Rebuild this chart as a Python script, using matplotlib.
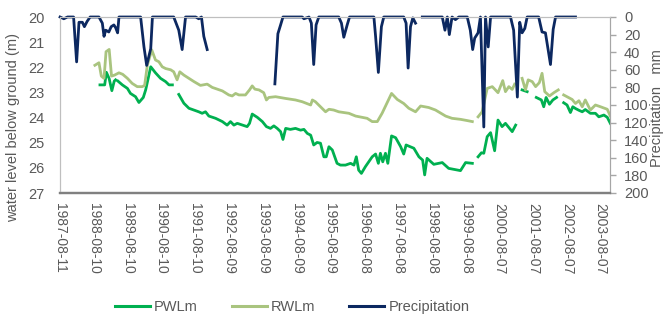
import numpy as np
import pandas as pd
import matplotlib
matplotlib.use("Agg")
import matplotlib.pyplot as plt
from matplotlib.lines import Line2D

plt.rcParams['font.family'] = ['Liberation Sans', 'DejaVu Sans']

# ---------------- data (decimal years) ----------------
pwl_years = [1988.79, 1988.93, 1988.98, 1989.06, 1989.14, 1989.21, 1989.25, 1989.28,
             1989.32, 1989.45, 1989.60, 1989.69, 1989.84, 1989.94, 1990.07, 1990.14,
             1990.29, 1990.43, 1990.58, 1990.73, 1990.83, 1990.93, 1991.02,
             1991.12, 1991.27, 1991.42, 1991.57, 1991.71, 1991.81, 1991.91, 1992.01,
             1992.21, 1992.41, 1992.55, 1992.65, 1992.75, 1992.85, 1993.00, 1993.14,
             1993.21, 1993.29, 1993.44, 1993.59, 1993.71, 1993.83, 1993.93, 1994.03,
             1994.13, 1994.20, 1994.28, 1994.42, 1994.57, 1994.72, 1994.82, 1994.92,
             1995.02, 1995.11, 1995.21, 1995.31, 1995.41, 1995.48, 1995.56, 1995.66,
             1995.73, 1995.80, 1995.90, 1996.05, 1996.20, 1996.30, 1996.37, 1996.44,
             1996.52, 1996.64, 1996.84, 1996.94, 1997.02, 1997.08, 1997.15, 1997.23,
             1997.30, 1997.41, 1997.53, 1997.68, 1997.77, 1997.84, 1998.07, 1998.22,
             1998.33, 1998.39, 1998.46, 1998.66, 1998.91, 1999.10, 1999.45, 1999.60,
             1999.80, 1999.88,
             1999.97, 2000.07, 2000.14, 2000.24, 2000.34, 2000.46, 2000.56, 2000.68,
             2000.78, 2000.86, 2000.98, 2001.08, 2001.17,
             2001.27, 2001.42, 2001.55,
             2001.69, 2001.84, 2001.91, 2001.98, 2002.08, 2002.18, 2002.29, 2002.40,
             2002.50, 2002.60, 2002.70, 2002.77, 2002.85, 2002.95, 2003.05, 2003.14,
             2003.29, 2003.44, 2003.54, 2003.69, 2003.79, 2003.88]
pwl_values = [22.70, 22.70, 22.20, 22.45, 22.93, 22.55, 22.50, np.nan,
              22.55, 22.70, 22.84, 23.04, 23.17, 23.40, 23.20, 22.90,
              21.98, 22.22, 22.44, 22.57, 22.70, 22.70, np.nan,
              23.08, 23.43, 23.63, 23.70, 23.77, 23.83, 23.77, 23.94,
              24.03, 24.16, 24.30, 24.16, 24.30, 24.23, 24.30, 24.36,
              24.23, 23.86, 23.99, 24.16, 24.36, 24.43, 24.33, 24.43,
              24.56, 24.87, 24.43, 24.47, 24.43, 24.50, 24.47, 24.63,
              24.70, 25.09, 24.99, 25.02, 25.56, 25.56, 25.16, 25.29,
              25.56, 25.82, 25.89, 25.89, 25.82, 25.89, 25.56, 26.09,
              26.22, 25.95, 25.56, 25.45, 25.82, 25.42, 25.76, 25.42,
              25.82, 24.73, 24.80, 25.16, 25.45, 25.09, 25.22, 25.56,
              25.69, 26.28, 25.62, 25.86, 25.79, 26.02, 26.11, 25.79,
              25.82, np.nan,
              25.56, 25.40, 25.42, 24.76, 24.60, 25.32, 24.10, 24.36,
              24.23, 24.36, 24.56, 24.30, np.nan,
              22.90, 22.97, np.nan,
              23.20, 23.30, 23.57, 23.20, 23.47, 23.30, 23.20, np.nan,
              23.41, 23.50, 23.80, 23.57, 23.64, 23.71, 23.77, 23.68,
              23.83, 23.83, 23.97, 23.90, 23.99, 24.23]

rwl_years = [1988.64, 1988.76, 1988.83, 1988.91, 1988.97, 1989.06, 1989.13, 1989.22,
             1989.35, 1989.46, 1989.60, 1989.74, 1989.89, 1990.04, 1990.11, 1990.19,
             1990.32, 1990.43, 1990.53, 1990.63, 1990.73, 1990.88, 1990.97, 1991.07,
             1991.15, 1991.27, 1991.42, 1991.57, 1991.76, 1991.96, 1992.11, 1992.41,
             1992.60, 1992.70, 1992.80, 1992.90, 1993.09, 1993.21, 1993.29, 1993.37,
             1993.49, 1993.63, 1993.71, 1993.78, 1993.98, 1994.28, 1994.57, 1994.77,
             1995.02, 1995.07, 1995.16, 1995.31, 1995.46, 1995.56, 1995.70, 1995.85,
             1996.15, 1996.35, 1996.54, 1996.69, 1996.84, 1996.99, 1997.13, 1997.41,
             1997.58, 1997.77, 1997.92, 1998.12, 1998.27, 1998.51, 1998.71, 1999.01,
             1999.20, 1999.45, 1999.65, 1999.80, 1999.88,
             1999.97, 2000.09, 2000.24, 2000.39, 2000.56, 2000.70, 2000.78, 2000.88,
             2000.98, 2001.05, 2001.16,
             2001.27, 2001.37, 2001.45, 2001.57, 2001.67, 2001.78, 2001.86, 2001.94,
             2002.08, 2002.21, 2002.34, 2002.42,
             2002.50, 2002.75, 2002.85, 2002.95, 2003.05, 2003.14, 2003.29, 2003.44,
             2003.59, 2003.79, 2003.88]
rwl_values = [21.92, 21.82, 22.35, 22.44, 21.38, 21.29, 22.35, 22.31,
              22.22, 22.28, 22.44, 22.64, 22.77, 22.77, 22.72, 21.91,
              21.31, 21.71, 21.78, 21.98, 22.05, 22.10, 22.18, 22.50,
              22.18, 22.31, 22.44, 22.57, 22.72, 22.67, 22.80, 22.94,
              23.10, 23.14, 23.04, 23.10, 23.10, 22.90, 22.74, 22.87,
              22.90, 23.01, 23.30, 23.20, 23.17, 23.24, 23.30, 23.37,
              23.50, 23.30, 23.37, 23.57, 23.77, 23.67, 23.70, 23.77,
              23.83, 23.94, 23.99, 24.03, 24.16, 24.16, 23.83, 23.04,
              23.28, 23.44, 23.63, 23.77, 23.54, 23.60, 23.70, 23.94,
              24.03, 24.07, 24.12, 24.16, np.nan,
              23.97, 23.77, 22.84, 22.77, 23.01, 22.53, 22.97, 22.77,
              22.88, 22.67, np.nan,
              22.44, 22.90, 22.50, 22.57, 22.77, 22.61, 22.24, 22.97,
              23.14, 23.01, 22.90, np.nan,
              23.10, 23.28, 23.44, 23.33, 23.57, 23.30, 23.70, 23.50,
              23.57, 23.67, 23.94]

precip_years = [1987.61, 1987.72, 1987.83, 1988.01, 1988.10, 1988.17, 1988.27, 1988.33,
                1988.41, 1988.50, 1988.76, 1988.86, 1988.91, 1988.96, 1989.05, 1989.12,
                1989.20, 1989.25, 1989.31, 1989.35, 1989.99, 1990.09, 1990.17, 1990.29,
                1990.34, 1990.97, 1991.12, 1991.22, 1991.32, 1991.62, 1991.71, 1991.79,
                1991.86, 1991.96, 1992.00,
                1993.90, 1993.96, 1994.05, 1994.13, 1994.20, 1994.77, 1994.82, 1994.97,
                1995.04, 1995.11, 1995.18, 1995.26, 1995.85, 1995.93, 1996.00, 1996.10,
                1996.17, 1996.89, 1996.94, 1997.02, 1997.11, 1997.18, 1997.77, 1997.84,
                1997.90, 1997.97, 1998.04, 1998.12, 1998.20,
                1998.32, 1998.91, 1998.99, 1999.06, 1999.12, 1999.20, 1999.30, 1999.40,
                1999.65, 1999.74, 1999.81, 1999.87, 1999.97, 2000.04, 2000.14, 2000.19,
                2000.27, 2000.34, 2000.93, 2001.02, 2001.13, 2001.20, 2001.27, 2001.35,
                2001.42, 2001.76, 2001.86, 2001.96, 2002.04, 2002.11, 2002.19, 2002.26,
                2002.85]
precip_values = [0, 2, 0, 0, 51, 6, 6, 11,
                 5, 0, 0, 7, 22, 15, 17, 11,
                 9, 12, 18, 0, 0, 34, 55, 36,
                 0, 0, 15, 37, 0, 0, 2, 0,
                 22, 37, np.nan,
                 np.nan, 76, 19, 9, 0, 0, 2, 0,
                 7, 54, 9, 0, 0, 7, 23, 9,
                 0, 0, 22, 63, 11, 0, 0, 7,
                 58, 11, 1, 7, np.nan,
                 0, 0, 15, 0, 20, 0, 3, 0,
                 0, 15, 37, 24, 18, 0, 125, 0,
                 34, 0, 0, 15, 91, 6, 18, 13,
                 0, 0, 17, 18, 37, 54, 14, 0,
                 0]

tick_labels = ['1987-08-11', '1988-08-10', '1989-08-10', '1990-08-10', '1991-08-10',
               '1992-08-09', '1993-08-09', '1994-08-09', '1995-08-09', '1996-08-08',
               '1997-08-08', '1998-08-08', '1999-08-08', '2000-08-07', '2001-08-07',
               '2002-08-07', '2003-08-07']
x_end = '2003-11-15'

series_names = ['PWLm', 'RWLm', 'Precipitation']
colors = ['#00B050', '#A9C47F', '#0C2860']
text_color = '#595959'


def to_dates(years):
    out = []
    for y in years:
        yr = int(np.floor(y))
        out.append(pd.Timestamp(year=yr, month=1, day=1) + pd.Timedelta(days=(y - yr) * 365.25))
    return pd.DatetimeIndex(out)


fig = plt.figure(figsize=(6.67, 3.2), dpi=100)
ax = fig.add_axes([60 / 667, 1 - 193 / 320, 550 / 667, 176 / 320])
ax2 = ax.twinx()

lw = 2.0
ax.plot(to_dates(pwl_years), pwl_values, color=colors[0], lw=lw, solid_joinstyle='round')
ax.plot(to_dates(rwl_years), rwl_values, color=colors[1], lw=lw, solid_joinstyle='round')
ax2.plot(to_dates(precip_years), precip_values, color=colors[2], lw=lw,
         solid_joinstyle='round', clip_on=False)

tick_dates = pd.to_datetime(tick_labels)
ax.set_xlim(tick_dates[0], pd.Timestamp(x_end))
ax.set_xticks(tick_dates)
ax.set_xticklabels(tick_labels, rotation=-90, fontsize=10, color=text_color)
ax.tick_params(axis='x', length=0, pad=7)

ax.set_ylim(27, 20)
ax.set_yticks(range(20, 28))
ax.tick_params(axis='y', length=0, pad=11, labelsize=10.5, labelcolor=text_color)

ax2.set_ylim(200, 0)
ax2.set_yticks(range(0, 201, 20))
ax2.tick_params(axis='y', length=4, width=1, color='#A6A6A6', pad=6,
                labelsize=10.5, labelcolor=text_color)

for a in (ax, ax2):
    a.spines['left'].set_color('#BFBFBF')
    a.spines['right'].set_color('#A6A6A6')
    a.spines['top'].set_color('#BFBFBF')
    a.spines['bottom'].set_color('#808080')
    a.spines['bottom'].set_linewidth(1.6)

fig.text(13 / 667, 1 - 128 / 320, 'water level below ground (m)', rotation=90,
         ha='center', va='center', fontsize=10.5, color=text_color)
fig.text(657 / 667, 1 - 108 / 320, 'Precipitation   mm', rotation=90,
         ha='center', va='center', fontsize=10.5, color=text_color)

handles = [Line2D([], [], color=c, lw=2.2) for c in colors]
fig.legend(handles, series_names, loc='center', bbox_to_anchor=(292 / 667, 1 - 307 / 320),
           ncol=3, frameon=False, fontsize=10.5, handlelength=2.4, handletextpad=0.3,
           columnspacing=2.3, labelcolor=text_color)

fig.savefig('out.png', dpi=100)
